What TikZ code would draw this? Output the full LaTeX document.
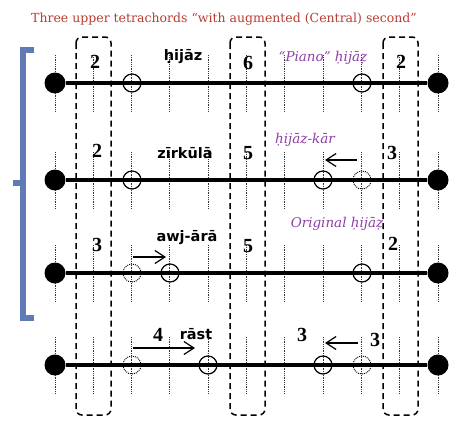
\documentclass[tikz,border=0pt]{standalone}
\usepackage{fontspec}
\setmainfont{Liberation Serif}
\newfontfamily\tagfont{DejaVu Sans}
\newfontfamily\namefont{DejaVu Serif}
\usetikzlibrary{arrows.meta}
\definecolor{titlered}{RGB}{185,60,50}
\definecolor{maqampurple}{RGB}{140,65,165}
\definecolor{bracketblue}{RGB}{95,122,180}

\begin{document}
\begin{tikzpicture}[x=1pt,y=-1pt]
        \tikzset{endnote/.style={circle,fill=black,minimum size=21pt,inner sep=0pt},
            opennote/.style={circle,draw,line width=1.2pt,minimum size=18pt,inner sep=0pt},
            movednote/.style={circle,draw,line width=0.9pt,dash pattern=on 1pt off 1pt,minimum size=18pt,inner sep=0pt},
            fret/.style={line width=0.9pt,dash pattern=on 0.9pt off 0.9pt,black!80},
            string/.style={line width=3.6pt},
            window/.style={line width=1.5pt,dash pattern=on 6pt off 4pt,rounded corners=6pt},
            movearrow/.style={line width=1.2pt,-{Straight Barb[length=10pt,width=13pt,line width=1.2pt]}},
            interval/.style={font=\bfseries\fontsize{20}{20}\selectfont},
            maqam/.style={font=\tagfont\bfseries\fontsize{14.5}{15}\selectfont},
            variant/.style={text=maqampurple,font=\namefont\itshape\fontsize{13.5}{14}\selectfont}}
        \useasboundingbox (0,0) rectangle (454,423);
        \node[text=titlered,font=\namefont\fontsize{12.5}{13}\selectfont] (title) at (224,19)
            {Three upper tetrachords “with augmented (Central) second”};
        \draw[bracketblue,line width=5.5pt] (34,50) -- (23,50) -- (23,318) -- (34,318);
        \draw[bracketblue,line width=5.5pt] (23,183) -- (13,183);
        \draw[window] (76,37) rectangle (111,415);
        \draw[window] (230,37) rectangle (265,415);
        \draw[window] (383,37) rectangle (418,415);
        \foreach \r/\y in {1/83,2/180,3/273,4/365} {
            \foreach \i in {0,...,10}
                \draw[fret] ({55+38.3*\i},{\y-28}) -- ({55+38.3*\i},{\y+28});
            \node[endnote] (l\r) at (55,\y) {};
            \node[endnote] (r\r) at (438,\y) {};
            \draw[string] (l\r) -- (r\r);
        }
        % hijaz
        \node[opennote] (n1a) at (132,83) {};
        \node[opennote] (n1b) at (362,83) {};
        \node[interval] (i1a) at (95,62) {2};
        \node[maqam] (m1) at (183,57) {ḥijāz};
        \node[interval] (i1b) at (248,63) {6};
        \node[variant] (v1) at (323,58) {“Piano” ḥijāẓ};
        \node[interval] (i1c) at (401,62) {2};
        % zirkula
        \node[opennote] (n2a) at (132,180) {};
        \node[opennote] (n2b) at (323,180) {};
        \node[movednote] (n2c) at (362,180) {};
        \node[interval] (i2a) at (97,151) {2};
        \node[maqam] (m2) at (185,153) {zīrkūlā};
        \node[interval] (i2b) at (248,153) {5};
        \node[variant] (v2) at (305,140) {ḥijāz-kār};
        \node[interval] (i2c) at (392,153) {3};
        \coordinate (a2s) at (357,160);
        \coordinate (a2e) at (325,160);
        \draw[movearrow] (a2s) -- (a2e);
        % awj-ara
        \node[movednote] (n3a) at (132,273) {};
        \node[opennote] (n3b) at (170,273) {};
        \node[opennote] (n3c) at (362,273) {};
        \node[variant] (v3) at (337,224) {Original ḥijāẓ};
        \node[interval] (i3a) at (97,245) {3};
        \node[maqam] (m3) at (187,238) {awj-ārā};
        \node[interval] (i3b) at (248,246) {5};
        \node[interval] (i3c) at (393,244) {2};
        \coordinate (a3s) at (133,257);
        \coordinate (a3e) at (166,257);
        \draw[movearrow] (a3s) -- (a3e);
        % rast
        \node[movednote] (n4a) at (132,365) {};
        \node[opennote] (n4b) at (208,365) {};
        \node[opennote] (n4c) at (323,365) {};
        \node[movednote] (n4d) at (362,365) {};
        \node[interval] (i4a) at (158,335) {4};
        \node[maqam] (m4) at (196,334) {rāst};
        \node[interval] (i4b) at (302,335) {3};
        \node[interval] (i4c) at (375,340) {3};
        \coordinate (a4s) at (133,348);
        \coordinate (a4e) at (195,348);
        \draw[movearrow] (a4s) -- (a4e);
        \coordinate (a5s) at (358,343);
        \coordinate (a5e) at (325,343);
        \draw[movearrow] (a5s) -- (a5e);
    \end{tikzpicture}
\end{document}
